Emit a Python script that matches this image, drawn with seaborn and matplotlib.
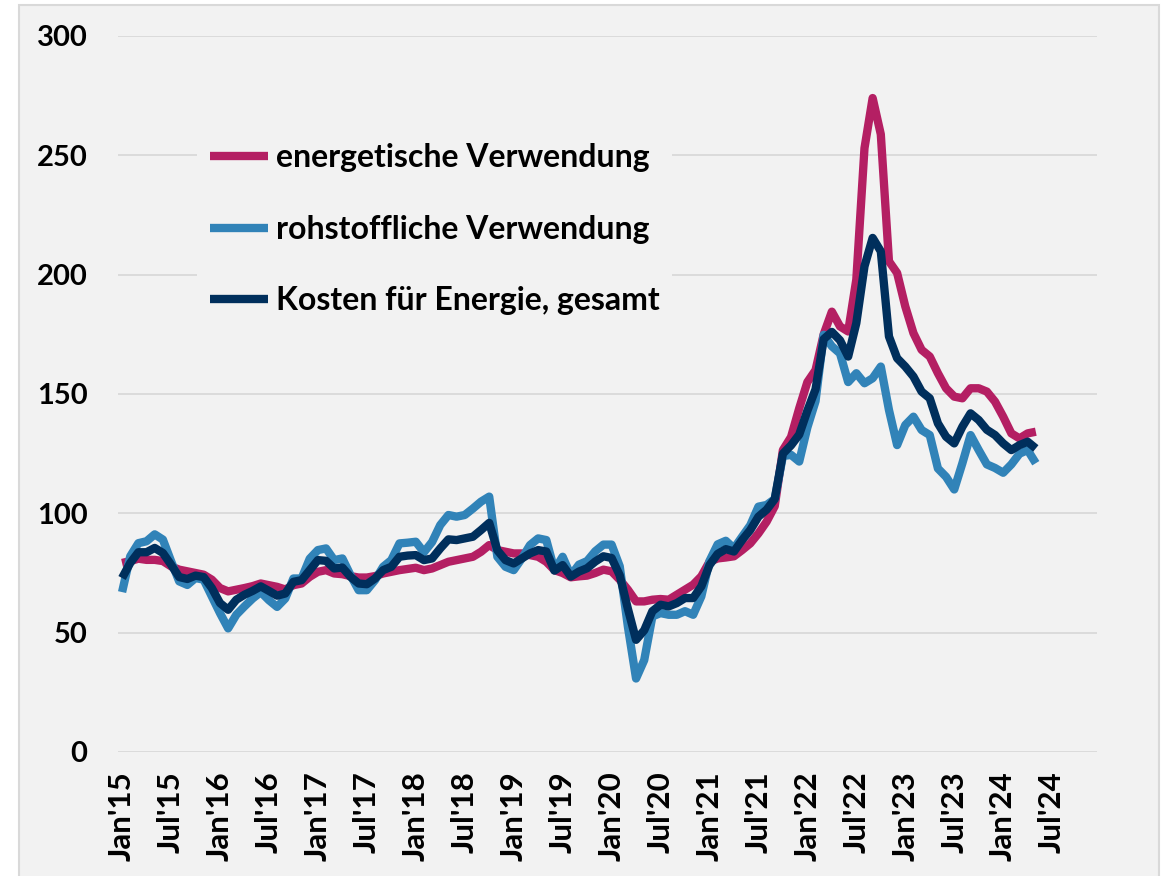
import matplotlib
matplotlib.use("Agg")
import matplotlib.pyplot as plt
from matplotlib.patches import Rectangle
import seaborn as sns
import numpy as np

# Monatswerte Jan'15 .. Mai'24
energetisch = [79.2, 80, 81, 80.5, 80.5, 80, 77.8, 76.4, 75.7, 75, 74.3, 72.2,
               68.7, 67.3, 68, 68.7, 69.5, 70.6, 69.9, 69.2, 68.1, 69.9, 70.6, 73.4,
               75.5, 76.2, 74.8, 74.5, 73.7, 73.1, 73.1, 73.7, 74.8, 75.5, 76.2, 76.7,
               77.2, 76.2, 76.9, 78.3, 79.7, 80.4, 81.1, 81.8, 83.9, 86.7, 84.6, 83.9,
               83.2, 83.2, 82.5, 81.8, 79.7, 76.2, 75, 73.2, 73.6, 73.9, 75, 76.4,
               75.7, 72.2, 68, 63.1, 63.1, 63.8, 64.1, 63.8, 65.9, 68, 70.1, 73.6,
               79.7, 81.1, 81.5, 82, 84.6, 87.4, 91.6, 96.5, 103, 126.5, 132, 144,
               155, 160, 175, 184.5, 178.3, 176.2, 198, 253, 274, 258.8, 205.6, 200.7,
               186.7, 175.5, 168.5, 165.7, 158.7, 152.4, 148.9, 148.2, 152.4, 152.4, 151, 146.8,
               140.5, 133.5, 131.4, 133.5, 134.2]

rohstofflich = [67, 82, 87.5, 88.3, 91.2, 89, 80, 71.5, 70, 72.9, 72.2, 65.2,
                58.2, 51.8, 57.5, 61, 64.3, 67, 63.6, 60.8, 64.3, 72.7, 72.7, 81,
                84.6, 85.3, 80.4, 81.1, 74.1, 67.8, 67.8, 72, 77.6, 80.4, 87.4, 87.7,
                88.1, 83.7, 88, 95.1, 99.3, 98.6, 99.3, 102, 104.9, 107, 81.8, 77.6,
                76.2, 81.1, 86.7, 89.5, 88.8, 76.2, 81.8, 74, 78.5, 80, 84.1, 86.9,
                86.9, 77.8, 52.5, 30.8, 38.5, 56.8, 58.2, 57.5, 57.5, 59, 57.5, 65.2,
                80, 87, 88.5, 85.3, 90.2, 95, 102.8, 103.5, 106, 124, 124.5, 121.7,
                136, 147, 174.8, 170, 167, 155, 158.7, 154.5, 156.6, 161.5, 143.3, 128.6,
                137, 140.5, 134.9, 132.8, 118.8, 115.3, 110, 121, 132.8, 126.5, 120.5, 119,
                117, 120.5, 125, 126.5, 121]

kosten_gesamt = [72.9, 79.2, 83.7, 83.7, 85.5, 83.4, 78.5, 73.3, 72.5, 73.9, 73.3, 68.7,
                 62.4, 59.6, 63.8, 65.9, 67.5, 69.4, 67.5, 65.5, 66.4, 71.3, 72, 76.2,
                 80.4, 80.1, 76.9, 77.3, 73.4, 70.6, 70.3, 72.7, 76.2, 77.6, 81.8, 82.3,
                 82.5, 80.4, 81.1, 85.3, 89.1, 88.8, 89.5, 90.2, 93, 96, 84.5, 80.4,
                 79, 81.1, 83.2, 84.6, 84, 76, 78.3, 73.5, 75.6, 77, 79.8, 82,
                 81.3, 74, 60, 47, 51, 59, 61.7, 61, 62.4, 64.5, 64.5, 69.4,
                 78.3, 83, 85, 84, 88.8, 93, 98.6, 101.5, 106, 125, 128.5, 133,
                 143, 152, 173, 176, 172.5, 165.7, 179.7, 203.5, 215.4, 209.8, 174.1, 165,
                 161.5, 157.3, 151, 148.2, 137.7, 132.1, 129.3, 136.3, 141.9, 139.1, 135, 132.8,
                 129.3, 126.5, 128.6, 130, 127.2]

tick_labels = ["Jan'15", "Jul'15", "Jan'16", "Jul'16", "Jan'17", "Jul'17", "Jan'18",
               "Jul'18", "Jan'19", "Jul'19", "Jan'20", "Jul'20", "Jan'21", "Jul'21",
               "Jan'22", "Jul'22", "Jan'23", "Jul'23", "Jan'24", "Jul'24"]
n_monate = 120  # Achse Jan'15 .. Dez'24

serien = [
    ("energetische Verwendung", energetisch, "#B41F63"),
    ("rohstoffliche Verwendung", rohstofflich, "#3183B8"),
    ("Kosten für Energie, gesamt", kosten_gesamt, "#002F5C"),
]

sns.set_theme(style="whitegrid")
plt.rcParams["font.family"] = ["Lato", "DejaVu Sans"]
plt.rcParams["font.weight"] = "bold"
plt.rcParams["text.color"] = "black"

fig = plt.figure(figsize=(11.61, 8.76), dpi=100)
fig.patch.set_facecolor("white")
rahmen = Rectangle((19 / 1161, -0.02), 1140 / 1161, 0.02 + 871 / 876,
                   transform=fig.transFigure, facecolor="#f2f2f2",
                   edgecolor="#d9d9d9", linewidth=1.5, zorder=-10)
fig.patches.append(rahmen)

ax = fig.add_axes([118 / 1161, 124 / 876, 979 / 1161, 716 / 876])
ax.set_facecolor("#f2f2f2")
ax.set_zorder(1)

for name, werte, farbe in serien:
    sns.lineplot(x=np.arange(len(werte)), y=werte, ax=ax, color=farbe, linewidth=6,
                 label=name, solid_joinstyle="round", solid_capstyle="butt")

ax.set_xlim(-0.5, n_monate - 0.5)
ax.set_ylim(0, 300)
ax.set_yticks(np.arange(0, 301, 50))
ax.set_xticks(np.arange(0, n_monate, 6))
ax.set_xticklabels(tick_labels, rotation=90)
ax.grid(axis="x", visible=False)
ax.grid(axis="y", color="#d9d9d9", linewidth=1.3)
for s in ax.spines.values():
    s.set_visible(False)
ax.tick_params(axis="y", length=0, pad=22, labelsize=21)
ax.tick_params(axis="x", length=0, pad=14, labelsize=22.5)
for lab in ax.get_xticklabels() + ax.get_yticklabels():
    lab.set_fontweight("bold")
    lab.set_color("black")
ax.set_xlabel("")
ax.set_ylabel("")

leg = ax.legend(loc="upper left", bbox_to_anchor=(0.081, 0.868), borderaxespad=0,
                frameon=True, facecolor="#f2f2f2", edgecolor="none", framealpha=1,
                handlelength=1.8, handletextpad=0.25, labelspacing=1.33,
                prop={"weight": "bold", "size": 23})
for line in leg.get_lines():
    line.set_linewidth(6)
for txt in leg.get_texts():
    txt.set_color("black")

fig.savefig("out.png", dpi=100)
